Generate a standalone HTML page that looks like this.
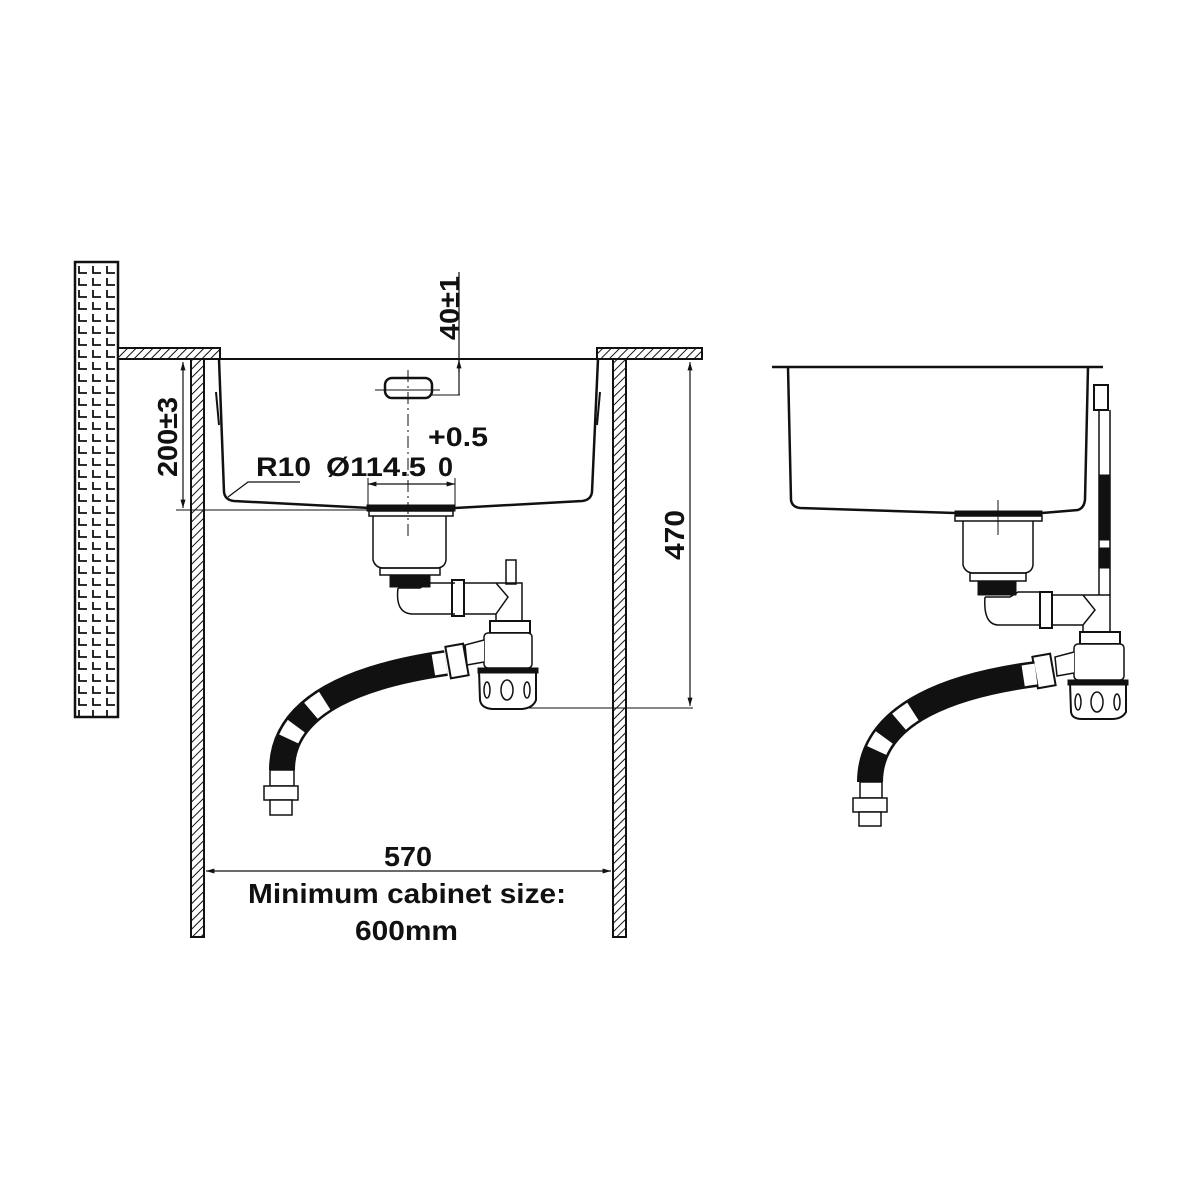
<!DOCTYPE html>
<html><head><meta charset="utf-8"><style>
html,body{margin:0;padding:0;background:#fff;}
svg{display:block}
text{font-family:"Liberation Sans Narrow","Liberation Sans",sans-serif;font-weight:bold;fill:#111}
</style></head><body>
<svg width="1200" height="1200" viewBox="0 0 1200 1200" xmlns="http://www.w3.org/2000/svg">
<defs>
<pattern id="h" width="6" height="6" patternUnits="userSpaceOnUse" patternTransform="rotate(45)">
<rect width="6" height="6" fill="#fff"/><line x1="0" y1="0" x2="0" y2="6" stroke="#111" stroke-width="2"/>
</pattern>
<pattern id="b" width="14" height="12" patternUnits="userSpaceOnUse" x="76" y="264">
<rect width="14" height="12" fill="#fff"/><path d="M3 2 V9 H11" fill="none" stroke="#111" stroke-width="1.8"/>
</pattern>
<marker id="a" viewBox="0 0 10 10" refX="10" refY="5" markerWidth="7" markerHeight="7" orient="auto-start-reverse"><path d="M0 2 L10 5 L0 8z" fill="#111"/></marker>
</defs>
<g stroke="#111" fill="none">
<rect x="75" y="262" width="43" height="455" fill="url(#b)" stroke-width="2.5"/>
<rect x="118" y="348" width="102" height="11" fill="url(#h)" stroke-width="2"/>
<rect x="597" y="348" width="105" height="11" fill="url(#h)" stroke-width="2"/>
<line x1="118" y1="359" x2="700" y2="359" stroke-width="2"/>
<rect x="191" y="359" width="13" height="578" fill="url(#h)" stroke-width="2"/>
<rect x="613" y="359" width="13" height="578" fill="url(#h)" stroke-width="2"/>
<path d="M219 359 L224 492 Q225 500 234 501 L370 508 M455 508 L582 501 Q591 500 592 492 L598 359" stroke-width="2.5"/>
<path d="M216 392 L219 425 M600 392 L597 425" stroke-width="2"/>
<rect x="367" y="505" width="88" height="6" fill="#111"/>
<rect x="369" y="511" width="84" height="5" stroke-width="1.5"/>
<rect x="385" y="378" width="47" height="20" rx="7" stroke-width="2.5"/>
<line x1="408" y1="370" x2="408" y2="540" stroke-width="1" stroke-dasharray="12 4 2 4"/>
<line x1="375" y1="390" x2="440" y2="390" stroke-width="1"/>
<line x1="459" y1="272" x2="459" y2="395" stroke-width="1.2"/>
<line x1="459" y1="372" x2="459" y2="360" stroke-width="1.2" marker-end="url(#a)"/>
<line x1="432" y1="395" x2="460" y2="395" stroke-width="1"/>
<line x1="183" y1="362" x2="183" y2="508" stroke-width="1.2" marker-start="url(#a)" marker-end="url(#a)"/>
<line x1="176" y1="510" x2="370" y2="510" stroke-width="1"/>
<path d="M300 482 L248 482 L228 497" stroke-width="1.2"/>
<line x1="368" y1="484" x2="455" y2="484" stroke-width="1.2" marker-start="url(#a)" marker-end="url(#a)"/>
<line x1="368" y1="478" x2="368" y2="505" stroke-width="1"/>
<line x1="455" y1="478" x2="455" y2="505" stroke-width="1"/>
<line x1="690" y1="362" x2="690" y2="706" stroke-width="1.2" marker-start="url(#a)" marker-end="url(#a)"/>
<line x1="525" y1="708" x2="693" y2="708" stroke-width="1"/>
<line x1="206" y1="871" x2="611" y2="871" stroke-width="1.2" marker-start="url(#a)" marker-end="url(#a)"/>
<path d="M373 516 L373 560 Q375 567 382 568 L438 568 Q445 567 446 560 L446 516" stroke-width="1.5"/>
<rect x="380" y="568" width="60" height="7" stroke-width="1.5"/>
<rect x="390" y="575" width="40" height="12" fill="#111"/>
<path d="M398 588 Q395 613 412 614 L455 614 M398 588 L420 588 L428 583 L455 583" stroke-width="1.5"/>
<rect x="452" y="580" width="12" height="36" stroke-width="2"/>
<path d="M464 583 L496 583 L508 597 L496 614 L464 614 M496 583 L522 583 L522 621 L496 621 L496 614" stroke-width="1.5"/>
<rect x="506" y="560" width="10" height="24" stroke-width="1.5"/>
<rect x="490" y="621" width="40" height="12" stroke-width="2"/>
<rect x="484" y="633" width="48" height="35" rx="4" fill="#fff" stroke-width="1.5"/>
<path d="M484 640 L465 645 L467 665 L484 662" fill="#fff" stroke-width="1.5"/>
<path d="M479 670 L536 670 L536 700 Q533 708 522 709 L492 709 Q481 708 480 700 Z" fill="#fff" stroke-width="2"/>
<rect x="478" y="668" width="60" height="5" fill="#111"/>
<ellipse cx="507" cy="690" rx="6" ry="10" stroke-width="1.5"/>
<ellipse cx="487" cy="690" rx="3" ry="8" stroke-width="1.5"/>
<ellipse cx="527" cy="690" rx="3" ry="8" stroke-width="1.5"/>
<rect x="448" y="645" width="18" height="32" fill="#fff" stroke-width="2" transform="rotate(-10 457 661)"/>
<path d="M446 663 C370 674 282 700 282 770" stroke="#111" stroke-width="26"/>
<path d="M446 663 C370 674 282 700 282 770" pathLength="100" stroke="#fff" stroke-width="21" stroke-dasharray="6 54 8 10 7 100"/>
<rect x="270" y="770" width="24" height="16" fill="#fff" stroke-width="1.5"/>
<rect x="264" y="786" width="34" height="14" fill="#fff" stroke-width="1.5"/>
<rect x="270" y="800" width="22" height="15" fill="#fff" stroke-width="1.5"/>
<line x1="772" y1="367" x2="1103" y2="367" stroke-width="2.5"/>
<path d="M788 367 L791 500 Q792 507 800 508 L955 513 M1042 513 L1078 510 Q1084 508 1085 500 L1088 367" stroke-width="2.5"/>
<rect x="955" y="511" width="87" height="5" fill="#111"/>
<rect x="955" y="516" width="87" height="5" stroke-width="1.5"/>
<line x1="998" y1="500" x2="998" y2="535" stroke-width="1"/>
<path d="M963 521 L963 565 Q965 572 972 573 L1025 573 Q1032 572 1033 565 L1033 521" stroke-width="1.5"/>
<rect x="970" y="573" width="56" height="8" stroke-width="1.5"/>
<rect x="978" y="581" width="38" height="14" fill="#111"/>
<path d="M985 597 Q983 624 998 625 L1040 625 M985 597 L1010 597 L1018 592 L1040 592" stroke-width="1.5"/>
<rect x="1040" y="592" width="12" height="36" stroke-width="2"/>
<path d="M1052 595 L1083 595 L1095 610 L1083 625 L1052 625 M1083 595 L1110 595 L1110 632 L1083 632 L1083 625" stroke-width="1.5"/>
<rect x="1080" y="632" width="40" height="12" stroke-width="2"/>
<rect x="1074" y="644" width="50" height="36" rx="4" fill="#fff" stroke-width="1.5"/>
<path d="M1074 652 L1055 657 L1057 676 L1074 673" fill="#fff" stroke-width="1.5"/>
<path d="M1070 682 L1126 682 L1126 712 Q1122 719 1112 719 L1082 719 Q1072 719 1071 712 Z" fill="#fff" stroke-width="2"/>
<rect x="1068" y="680" width="60" height="5" fill="#111"/>
<ellipse cx="1097" cy="702" rx="6" ry="10" stroke-width="1.5"/>
<ellipse cx="1078" cy="702" rx="3" ry="8" stroke-width="1.5"/>
<ellipse cx="1117" cy="702" rx="3" ry="8" stroke-width="1.5"/>
<rect x="1035" y="655" width="18" height="32" fill="#fff" stroke-width="2" transform="rotate(-10 1044 671)"/>
<rect x="1094" y="385" width="14" height="25" stroke-width="2"/>
<path d="M1099 410 L1099 595 M1110 410 L1110 595" stroke-width="1.5"/>
<rect x="1099" y="475" width="11" height="65" fill="#111"/>
<rect x="1099" y="548" width="11" height="20" fill="#111"/>
<path d="M1036 674 C960 684 870 710 870 782" stroke="#111" stroke-width="26"/>
<path d="M1036 674 C960 684 870 710 870 782" pathLength="100" stroke="#fff" stroke-width="21" stroke-dasharray="6 54 8 10 7 100"/>
<rect x="860" y="782" width="22" height="16" fill="#fff" stroke-width="1.5"/>
<rect x="853" y="798" width="34" height="14" fill="#fff" stroke-width="1.5"/>
<rect x="859" y="812" width="22" height="14" fill="#fff" stroke-width="1.5"/>
</g>
<text x="0" y="0" font-size="28" transform="translate(459 340) rotate(-90)" textLength="64" lengthAdjust="spacingAndGlyphs">40±1</text>
<text x="0" y="0" font-size="28" transform="translate(177 477) rotate(-90)" textLength="80" lengthAdjust="spacingAndGlyphs">200±3</text>
<text x="0" y="0" font-size="28" transform="translate(684 560) rotate(-90)" textLength="50" lengthAdjust="spacingAndGlyphs">470</text>
<text x="428" y="446" font-size="27" textLength="60" lengthAdjust="spacingAndGlyphs">+0.5</text>
<text x="256" y="476" font-size="27" textLength="55" lengthAdjust="spacingAndGlyphs">R10</text>
<text x="326" y="476" font-size="27" textLength="100" lengthAdjust="spacingAndGlyphs">Ø114.5</text>
<text x="438" y="476" font-size="27">0</text>
<text x="384" y="866" font-size="28" textLength="48" lengthAdjust="spacingAndGlyphs">570</text>
<text x="248" y="903" font-size="28" textLength="318" lengthAdjust="spacingAndGlyphs">Minimum cabinet size:</text>
<text x="355" y="940" font-size="28" textLength="103" lengthAdjust="spacingAndGlyphs">600mm</text>
</svg>
</body></html>
